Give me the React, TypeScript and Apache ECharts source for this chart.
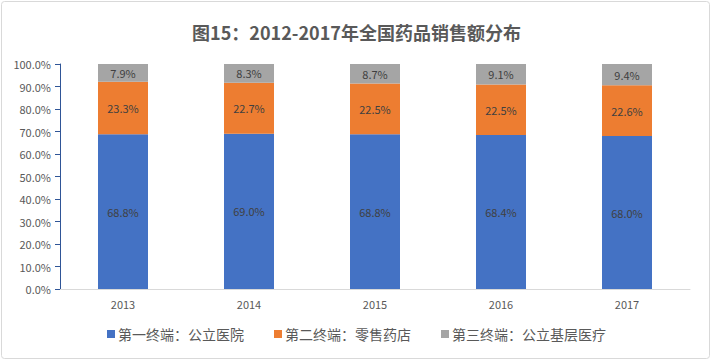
import React, { useEffect, useRef } from "react";
import * as echarts from "echarts";

const categories = ["2013", "2014", "2015", "2016", "2017"];
const seriesNames = ["第一终端：公立医院", "第二终端：零售药店", "第三终端：公立基层医疗"];
const publicHospital = [68.8, 69.0, 68.8, 68.4, 68.0];
const retailPharmacy = [23.3, 22.7, 22.5, 22.5, 22.6];
const grassroots = [7.9, 8.3, 8.7, 9.1, 9.4];
const colors = ["#4472C4", "#ED7D31", "#A5A5A5"];

export default function App() {
  const ref = useRef<HTMLDivElement>(null);
  useEffect(() => {
    if (!ref.current) return;
    const chart = echarts.init(ref.current, null, { renderer: "svg" });
    const font = "'Microsoft YaHei', 'Noto Sans CJK SC', sans-serif";
    const mk = (name: string, data: number[], color: string) => ({
      name,
      type: "bar",
      stack: "total",
      barWidth: 50,
      data,
      itemStyle: { color },
      label: {
        show: true,
        position: "inside",
        formatter: (p: any) => p.value.toFixed(1) + "%",
        color: "#404040",
        fontSize: 11,
        fontFamily: font,
      },
    });
    chart.setOption({
      animation: false,
      textStyle: { fontFamily: font },
      title: {
        text: "图15：2012-2017年全国药品销售额分布",
        left: "center",
        top: 18,
        textStyle: { fontSize: 18, fontWeight: "bold", color: "#595959", fontFamily: font },
      },
      legend: {
        bottom: 15,
        left: "center",
        itemWidth: 8,
        itemHeight: 8,
        itemGap: 30,
        icon: "rect",
        textStyle: { fontSize: 14, color: "#595959", fontFamily: font, padding: [0, 0, 0, -2] },
        data: seriesNames,
      },
      grid: { left: 60, right: 23, top: 64, bottom: 72 },
      xAxis: {
        type: "category",
        data: categories,
        axisLine: { lineStyle: { color: "#D9D9D9" } },
        axisTick: { show: false },
        axisLabel: { color: "#595959", fontSize: 11, margin: 9 },
      },
      yAxis: {
        type: "value",
        min: 0,
        max: 100,
        interval: 10,
        axisLine: { show: true, lineStyle: { color: "#2F5597" } },
        axisTick: { show: true, length: 5, lineStyle: { color: "#2F5597" } },
        splitLine: { show: false },
        axisLabel: { color: "#595959", fontSize: 11, formatter: (v: number) => v.toFixed(1) + "%", margin: 9 },
      },
      series: [
        mk(seriesNames[0], publicHospital, colors[0]),
        mk(seriesNames[1], retailPharmacy, colors[1]),
        mk(seriesNames[2], grassroots, colors[2]),
      ],
      graphic: [
        {
          type: "rect",
          shape: { x: 1.5, y: 1.5, width: 708, height: 357, r: 3 },
          style: { fill: "none", stroke: "#D9D9D9", lineWidth: 1 },
          silent: true,
        },
      ],
    });
    return () => chart.dispose();
  }, []);
  return (
    <div
      ref={ref}
      style={{ position: "fixed", left: 0, top: 0, width: 713, height: 361, background: "#fff" }}
    />
  );
}
